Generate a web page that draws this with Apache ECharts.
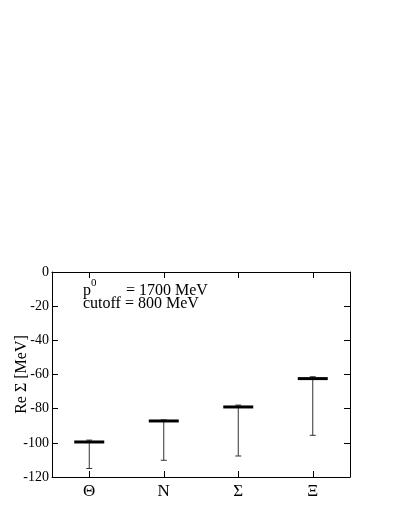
<!DOCTYPE html>
<html>
<head>
<meta charset="utf-8">
<script src="https://cdn.jsdelivr.net/npm/echarts@6/dist/echarts.min.js"></script>
<style>
  html, body { margin: 0; padding: 0; background: #fff; }
  #chart { width: 409px; height: 529px; }
</style>
</head>
<body>
<div id="chart"></div>
<script>
// baryons and the real part of the self energy (MeV)
let categories = ['Θ', 'N', 'Σ', 'Ξ'];
let centralValues = [-99.5, -87.2, -79.0, -62.4];
let upperValues = [-98.4, -86.6, -77.9, -61.3];
let lowerValues = [-115.0, -110.2, -107.7, -95.6];
let yTicks = [0, -20, -40, -60, -80, -100, -120];

let FONT = 'Liberation Serif';

function initSelfEnergy() {
    let $el = document.getElementById('chart');
    let chart = echarts.init($el);

    let data = categories.map(function (c, i) {
        return [i, centralValues[i], upperValues[i], lowerValues[i]];
    });

    // error bar + thick marker for the central value
    let renderItem = function renderItem(params, api) {
        let x = api.value(0);
        let c = api.coord([x, api.value(1)]);
        let hi = api.coord([x, api.value(2)]);
        let lo = api.coord([x, api.value(3)]);
        let thin = { stroke: '#333', lineWidth: 1 };
        return {
            type: 'group',
            children: [
                { type: 'line', shape: { x1: hi[0], y1: hi[1], x2: lo[0], y2: lo[1] }, style: thin },
                { type: 'line', shape: { x1: hi[0] - 3, y1: hi[1], x2: hi[0] + 3, y2: hi[1] }, style: thin },
                { type: 'line', shape: { x1: lo[0] - 3, y1: lo[1], x2: lo[0] + 3, y2: lo[1] }, style: thin },
                { type: 'line', shape: { x1: c[0] - 15, y1: c[1], x2: c[0] + 15, y2: c[1] }, style: { stroke: '#000', lineWidth: 3 } }
            ]
        };
    };

    let makeLine = function () {
        return { show: true, onZero: false, lineStyle: { color: '#000', width: 1 } };
    };
    let makeTick = function (inside, align) {
        return { show: true, inside: inside, alignWithLabel: align, length: 6, lineStyle: { color: '#000' } };
    };

    let option = {
        animation: false,
        backgroundColor: '#fff',
        textStyle: { fontFamily: FONT },
        grid: {
            left: 52,
            right: 59,
            top: 272,
            bottom: 52
        },
        xAxis: [{
            type: 'category',
            data: categories,
            position: 'bottom',
            boundaryGap: true,
            axisLine: makeLine(),
            axisTick: makeTick(true, true),
            axisLabel: { color: '#000', fontFamily: FONT, fontSize: 17, margin: 6 },
            splitLine: { show: false }
        }, {
            type: 'category',
            data: categories,
            position: 'top',
            boundaryGap: true,
            axisLine: makeLine(),
            axisTick: makeTick(true, true),
            axisLabel: { show: false },
            splitLine: { show: false }
        }],
        yAxis: [{
            type: 'value',
            min: -120,
            max: 0,
            interval: 20,
            position: 'left',
            name: 'Re Σ [MeV]',
            nameLocation: 'middle',
            nameRotate: 90,
            nameGap: 22,
            nameMoveOverlap: false,
            nameTextStyle: { color: '#000', fontFamily: FONT, fontSize: 16 },
            axisLine: makeLine(),
            axisTick: makeTick(true, false),
            axisLabel: {
                color: '#000', fontFamily: FONT, fontSize: 14, margin: 3,
                formatter: function (v) { return yTicks.indexOf(v) >= 0 ? String(v) : ''; }
            },
            splitLine: { show: false }
        }, {
            type: 'value',
            min: -120,
            max: 0,
            interval: 20,
            position: 'right',
            axisLine: makeLine(),
            axisTick: makeTick(true, false),
            axisLabel: { show: false },
            splitLine: { show: false }
        }],
        graphic: [
            { type: 'text', left: 83, top: 283, style: { text: 'p', font: '16px "' + FONT + '"', fill: '#000' } },
            { type: 'text', left: 91, top: 278, style: { text: '0', font: '11px "' + FONT + '"', fill: '#000' } },
            { type: 'text', left: 126, top: 283, style: { text: '= 1700 MeV', font: '16px "' + FONT + '"', fill: '#000' } },
            { type: 'text', left: 83, top: 296, style: { text: 'cutoff = 800 MeV', font: '16px "' + FONT + '"', fill: '#000' } }
        ],
        series: [{
            type: 'custom',
            renderItem: renderItem,
            xAxisIndex: 0,
            yAxisIndex: 0,
            encode: { x: 0, y: [1, 2, 3] },
            data: data,
            z: 10
        }]
    };

    chart.setOption(option);
}

initSelfEnergy();
</script>
</body>
</html>
